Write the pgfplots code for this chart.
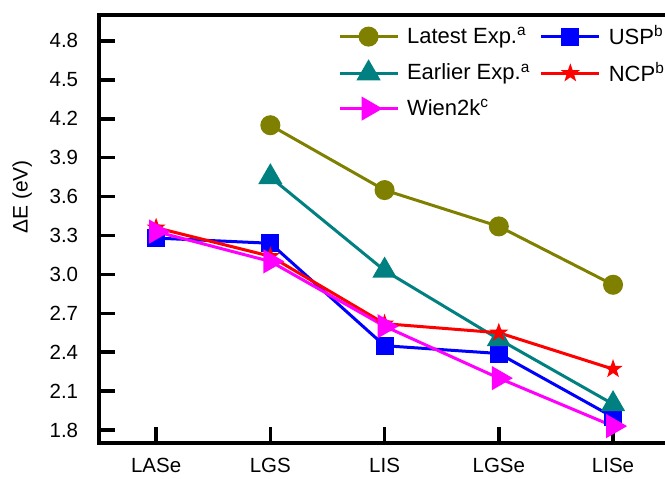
\documentclass[border=0pt]{standalone}
\usepackage{fontspec}
\setmainfont{Liberation Sans}
\usepackage{pgfplots}
\pgfplotsset{compat=1.18}
\usetikzlibrary{plotmarks}
\definecolor{olivec}{RGB}{128,128,0}
\definecolor{tealc}{RGB}{0,128,128}
\definecolor{magc}{RGB}{255,0,255}
\definecolor{bluec}{RGB}{0,0,255}
\definecolor{redc}{RGB}{255,0,0}
\pgfdeclareplotmark{fstar}{%
  \pgfpathmoveto{\pgfpointpolar{90}{\pgfplotmarksize}}%
  \pgfpathlineto{\pgfpointpolar{126}{0.40\pgfplotmarksize}}%
  \pgfpathlineto{\pgfpointpolar{162}{\pgfplotmarksize}}%
  \pgfpathlineto{\pgfpointpolar{198}{0.40\pgfplotmarksize}}%
  \pgfpathlineto{\pgfpointpolar{234}{\pgfplotmarksize}}%
  \pgfpathlineto{\pgfpointpolar{270}{0.40\pgfplotmarksize}}%
  \pgfpathlineto{\pgfpointpolar{306}{\pgfplotmarksize}}%
  \pgfpathlineto{\pgfpointpolar{342}{0.40\pgfplotmarksize}}%
  \pgfpathlineto{\pgfpointpolar{18}{\pgfplotmarksize}}%
  \pgfpathlineto{\pgfpointpolar{54}{0.40\pgfplotmarksize}}%
  \pgfpathclose
  \pgfusepathqfill}
\begin{document}
\fontsize{20}{24}\selectfont
\begin{tikzpicture}
\begin{axis}[name=ax, scale only axis, width=582.6pt, height=428pt,
  xmin=-0.5, xmax=4.6, ymin=1.7, ymax=5.0,
  xtick={0,1,2,3,4}, xticklabels={LASe,LGS,LIS,LGSe,LISe},
  ytick={1.8,2.1,2.4,2.7,3.0,3.3,3.6,3.9,4.2,4.5,4.8},
  /pgf/number format/assume math mode=true,
  yticklabel style={/pgf/number format/fixed, /pgf/number format/fixed zerofill, /pgf/number format/precision=1, xshift=-14pt},
  xticklabel style={yshift=-8pt},
  tick label style={font=\fontsize{20.5}{24}\selectfont},
  tick align=inside, xtick pos=left, ytick pos=left,
  major tick length=16pt, minor tick num=0,
  major tick style={line width=3.5pt, black},
  axis line style={line width=4pt, black},
  ylabel={ΔE (eV)},
  ylabel style={at={(axis description cs:-0.132,0.575)}, anchor=center, font=\fontsize{21}{24}\selectfont},
  legend columns=2,
  legend cell align=left,
  legend style={draw=none, fill=none, at={(axis description cs:0.41,0.98)}, anchor=north west,
    font=\fontsize{22}{26}\selectfont, row sep=11pt, inner sep=0pt,
    /tikz/every even column/.append style={column sep=8pt}},
  legend image code/.code={\path (64pt,0pt); \draw[mark repeat=2, mark phase=2] plot coordinates {(0pt,0pt) (29pt,0pt) (58pt,0pt)};},
  every axis plot/.append style={line width=3pt},
]
\addplot[color=olivec, mark=*, mark size=8.5pt, mark options={solid}] coordinates {(1,4.15) (2,3.65) (3,3.37) (4,2.92)};
\addlegendentry{Latest Exp.\textsuperscript{a}}
\addplot[color=bluec, mark=square*, mark size=7.5pt] coordinates {(0,3.28) (1,3.24) (2,2.45) (3,2.39) (4,1.90)};
\addlegendentry{USP\textsuperscript{b}}
\addplot[color=tealc, mark=triangle*, mark size=11pt] coordinates {(1,3.75) (2,3.03) (3,2.50) (4,2.00)};
\addlegendentry{Earlier Exp.\textsuperscript{a}}
\addplot[color=redc, mark=fstar, mark size=10pt] coordinates {(0,3.36) (1,3.14) (2,2.62) (3,2.55) (4,2.27)};
\addlegendentry{NCP\textsuperscript{b}}
\addplot[color=magc, mark=triangle*, mark size=11pt, mark options={rotate=-90}] coordinates {(0,3.33) (1,3.10) (2,2.60) (3,2.20) (4,1.83)};
\addlegendentry{Wien2k\textsuperscript{c}}
\end{axis}
\pgfresetboundingbox
\path ([shift={(-99pt,-36pt)}]ax.south west) rectangle ([shift={(566pt,15pt)}]ax.north west);
\end{tikzpicture}
\end{document}
